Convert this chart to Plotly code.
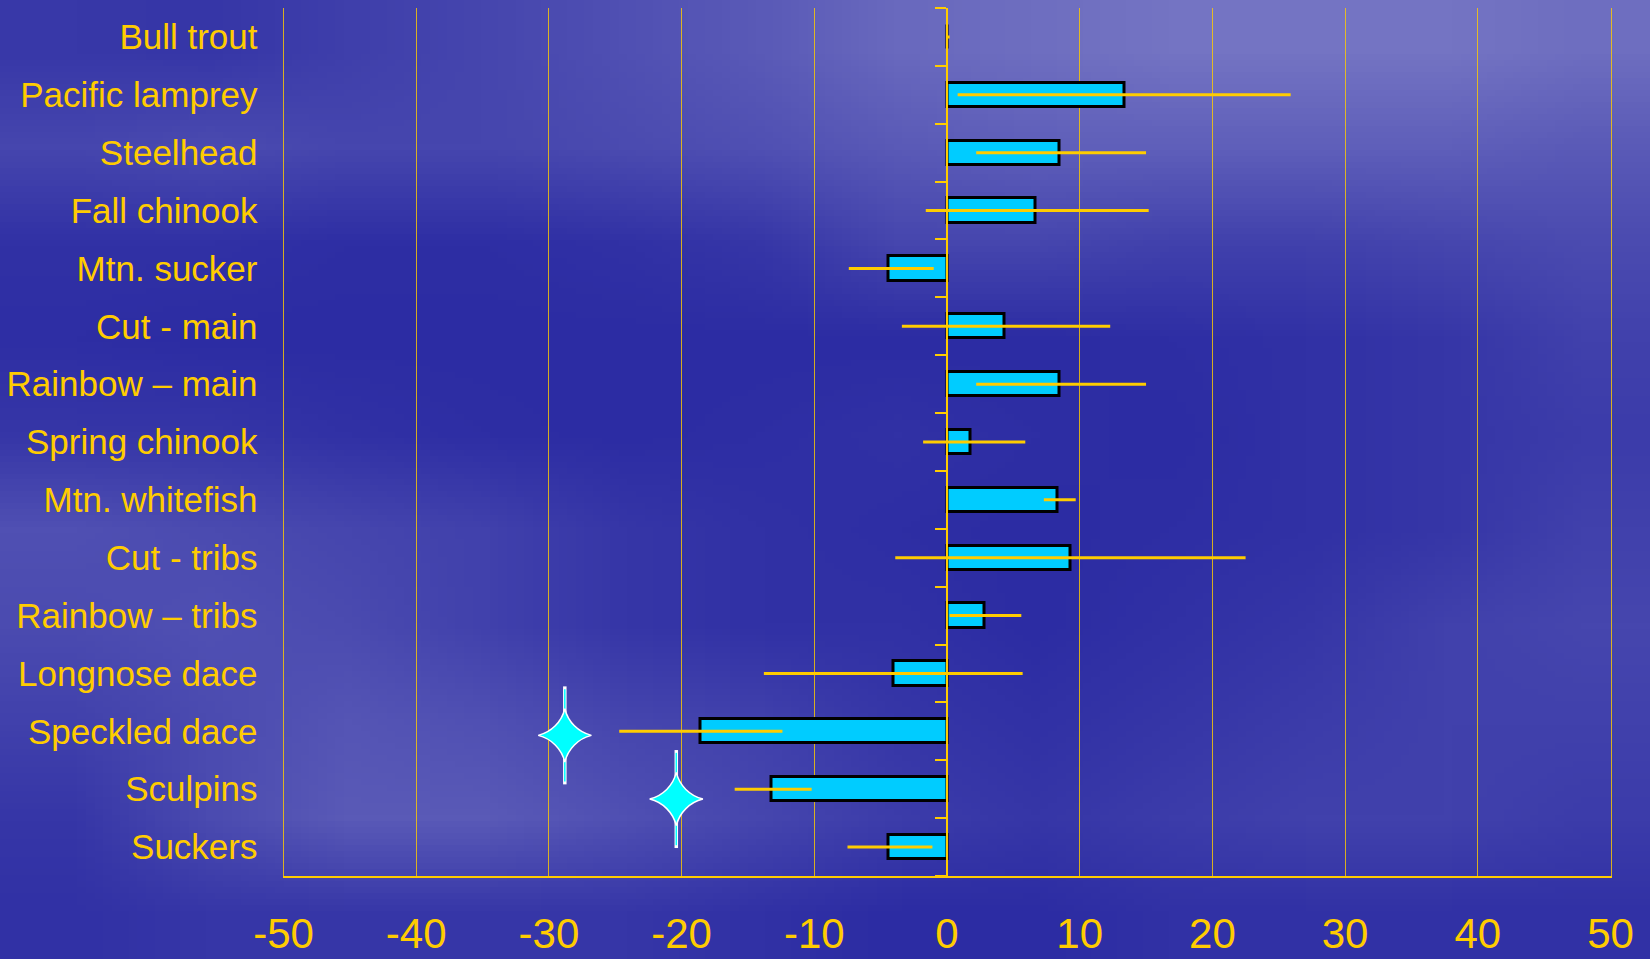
import base64, struct, zlib
import plotly.graph_objects as go

# ---------------- data ----------------
categories = ["Bull trout", "Pacific lamprey", "Steelhead", "Fall chinook", "Mtn. sucker",
              "Cut - main", "Rainbow \u2013 main", "Spring chinook", "Mtn. whitefish",
              "Cut - tribs", "Rainbow \u2013 tribs", "Longnose dace", "Speckled dace",
              "Sculpins", "Suckers"]
values   = [0, 13.4, 8.5, 6.7, -4.4, 4.3, 8.5, 1.8, 8.3, 9.3, 2.8, -4.0, -18.6, -13.2, -4.4]
err_low  = [0, 0.8, 2.2, -1.6, -7.4, -3.4, 2.2, -1.8, 7.3, -3.9, 0.2, -13.8, -24.7, -16.0, -7.5]
err_high = [0.2, 25.9, 15.0, 15.2, -1.0, 12.3, 15.0, 5.9, 9.7, 22.5, 5.6, 5.7, -12.4, -10.2, -1.1]

star_x = [-28.8, -20.4]
star_y = [12.07, 13.17]          # numeric category position (Speckled dace, Sculpins)

x_ticks = [-50, -40, -30, -20, -10, 0, 10, 20, 30, 40, 50]
x_tick_text = ["-50", "-40", "-30", "-20", "-10", "0", "10", "20", "30", "40", "50"]

# background brightness (0 = dark blue, 1 = lavender), 10 rows x 12 cols
bg_rows = [
    [0.22, 0.20, 0.28, 0.35, 0.45, 0.55, 0.70, 0.75, 0.80, 0.80, 0.80, 0.75],
    [0.35, 0.40, 0.35, 0.35, 0.40, 0.45, 0.55, 0.60, 0.60, 0.60, 0.60, 0.55],
    [0.15, 0.15, 0.12, 0.12, 0.15, 0.20, 0.35, 0.35, 0.30, 0.30, 0.35, 0.40],
    [0.12, 0.10, 0.10, 0.10, 0.10, 0.10, 0.10, 0.10, 0.12, 0.15, 0.20, 0.30],
    [0.20, 0.20, 0.15, 0.12, 0.10, 0.12, 0.15, 0.12, 0.10, 0.15, 0.20, 0.25],
    [0.45, 0.40, 0.35, 0.30, 0.20, 0.15, 0.12, 0.10, 0.12, 0.15, 0.20, 0.30],
    [0.40, 0.45, 0.40, 0.30, 0.20, 0.15, 0.15, 0.10, 0.15, 0.20, 0.30, 0.35],
    [0.30, 0.40, 0.50, 0.45, 0.35, 0.30, 0.20, 0.15, 0.20, 0.25, 0.30, 0.30],
    [0.20, 0.40, 0.55, 0.55, 0.45, 0.35, 0.25, 0.20, 0.25, 0.30, 0.30, 0.25],
    [0.15, 0.20, 0.20, 0.20, 0.20, 0.15, 0.10, 0.10, 0.15, 0.15, 0.15, 0.15],
]

# ---------------- style ----------------
GOLD = "#FFCC00"
CYAN = "#00CCFF"
DARK = (34, 34, 158)
LIGHT = (136, 136, 204)


def make_png(rows):
    h = len(rows)
    w = len(rows[0])
    raw = b""
    for r in rows:
        line = bytearray([0])
        for t in r:
            for c in range(3):
                line.append(int(round(DARK[c] + t * (LIGHT[c] - DARK[c]))))
        raw += bytes(line)

    def chunk(tag, data):
        return (struct.pack(">I", len(data)) + tag + data +
                struct.pack(">I", zlib.crc32(tag + data) & 0xFFFFFFFF))

    png = b"\x89PNG\r\n\x1a\n"
    png += chunk(b"IHDR", struct.pack(">IIBBBBB", w, h, 8, 2, 0, 0, 0))
    png += chunk(b"IDAT", zlib.compress(raw))
    png += chunk(b"IEND", b"")
    return "data:image/png;base64," + base64.b64encode(png).decode()


W, H = 1650, 959
xd = [283.5 / W, 1610.5 / W]
yd = [1 - 876 / H, 1 - 8 / H]
zero_pos = xd[0] + (0 - (-50)) / 100 * (xd[1] - xd[0])

n = len(categories)

fig = go.Figure()

fig.add_trace(go.Bar(
    orientation="h", x=values, y=categories, width=0.42,
    marker=dict(color=CYAN, line=dict(color="black", width=3)),
    showlegend=False, hoverinfo="skip"))

ex, ey = [], []
for c, lo, hi in zip(categories, err_low, err_high):
    ex += [lo, hi, None]
    ey += [c, c, None]
fig.add_trace(go.Scatter(x=ex, y=ey, mode="lines",
                         line=dict(color=GOLD, width=3),
                         showlegend=False, hoverinfo="skip"))

# four-point stars: elongated vertical spikes + star body
fig.add_trace(go.Scatter(x=star_x, y=star_y, yaxis="y2", mode="markers",
                         marker=dict(symbol="line-ns", size=70,
                                     line=dict(color="white", width=3.5)),
                         showlegend=False, hoverinfo="skip"))
fig.add_trace(go.Scatter(x=star_x, y=star_y, yaxis="y2", mode="markers",
                         marker=dict(symbol="line-ns", size=66,
                                     line=dict(color="#00FFFF", width=1.5)),
                         showlegend=False, hoverinfo="skip"))
fig.add_trace(go.Scatter(x=star_x, y=star_y, yaxis="y2", mode="markers",
                         marker=dict(symbol="star-diamond", size=38, color="#00FFFF",
                                     line=dict(color="white", width=1.5)),
                         showlegend=False, hoverinfo="skip"))

fig.update_layout(
    width=W, height=H,
    margin=dict(l=0, r=0, t=0, b=0),
    paper_bgcolor="rgb(34,34,158)",
    plot_bgcolor="rgba(0,0,0,0)",
    images=[dict(source=make_png(bg_rows), xref="paper", yref="paper",
                 x=0, y=1, sizex=1, sizey=1, xanchor="left", yanchor="top",
                 sizing="stretch", layer="below")],
    xaxis=dict(domain=xd, range=[-50, 50], tickvals=x_ticks, ticktext=x_tick_text,
               showgrid=True, gridcolor="rgba(255,204,0,0.8)", gridwidth=1,
               zeroline=False, showline=True, linecolor=GOLD, linewidth=2,
               ticks="outside", ticklen=20, tickcolor="rgba(0,0,0,0)",
               tickfont=dict(family="Liberation Sans, Arial, sans-serif",
                             size=42, color=GOLD),
               automargin=False, fixedrange=True),
    yaxis=dict(domain=yd, type="category", categoryorder="array", categoryarray=categories,
               range=[n - 0.5, -0.5], showgrid=False, zeroline=False,
               showline=True, mirror=True, linecolor="rgba(255,204,0,0.8)", linewidth=1,
               ticks="outside", ticklen=18, tickcolor="rgba(0,0,0,0)",
               tickfont=dict(family="Liberation Sans, Arial, sans-serif", size=35, color=GOLD),
               automargin=False, fixedrange=True),
    yaxis2=dict(overlaying="y", anchor="free", position=zero_pos, side="left",
                range=[n - 0.5, -0.5], tickvals=[k - 0.5 for k in range(n + 1)],
                showticklabels=False, ticks="outside", ticklen=11, tickwidth=2,
                tickcolor=GOLD, showline=True, linecolor=GOLD, linewidth=2,
                showgrid=False, zeroline=False, fixedrange=True),
    bargap=0,
)

fig.write_html("out.html", config={"displayModeBar": False},
               post_script="document.body.style.margin='0';document.body.style.overflow='hidden';")
